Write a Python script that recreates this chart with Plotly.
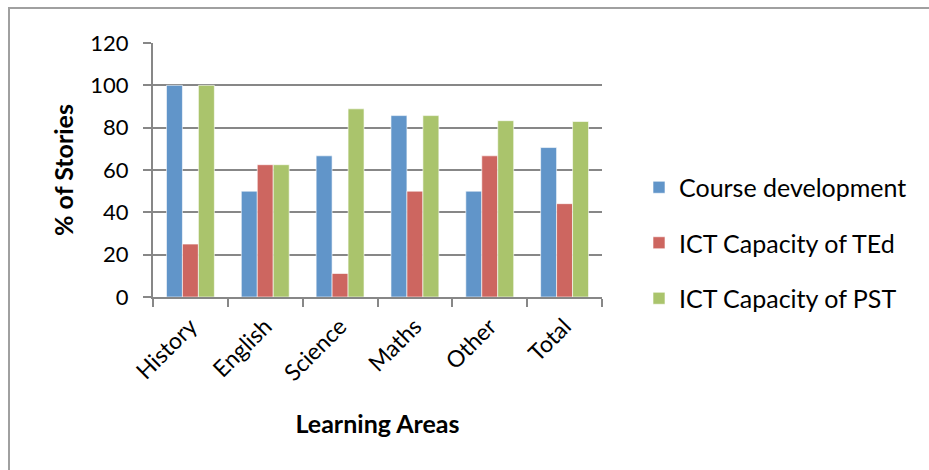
import plotly.graph_objects as go

categories = ["History", "English", "Science", "Maths", "Other", "Total"]
course_dev = [100, 50, 66.7, 85.7, 50, 70.6]
ict_ted = [25, 62.5, 11.1, 50, 66.7, 44.1]
ict_pst = [100, 62.5, 88.9, 85.7, 83.3, 82.9]
y_ticks = [0, 20, 40, 60, 80, 100, 120]

series = [
    ("Course development", course_dev, "#6195C9"),
    ("ICT Capacity of TEd", ict_ted, "#CD6660"),
    ("ICT Capacity of PST", ict_pst, "#AAC46C"),
]

FONT = "Lato, 'Open Sans', sans-serif"
FS = 22
FT = 25
fig = go.Figure()
for i, (name, vals, col) in enumerate(series):
    fig.add_trace(go.Bar(
        x=categories, y=vals, name=name, legendgroup=f"g{i}",
        marker=dict(color=col, line=dict(color="rgba(255,255,255,0.6)", width=1)),
    ))

L, R, T, B = 153, 602, 43, 297
W, H = 929, 470
pw, ph = R - L, B - T

fig.update_layout(
    width=W, height=H,
    margin=dict(l=L, r=W - R, t=T, b=H - B),
    paper_bgcolor="white", plot_bgcolor="white",
    barmode="group", bargap=0.36, bargroupgap=0,
    font=dict(family=FONT, size=FS, color="black"),
    legend=dict(
        x=(639 - L) / pw, xanchor="left", y=1 - (243 - T) / ph, yanchor="middle",
        traceorder="grouped", tracegroupgap=20,
        font=dict(family=FONT, size=FT, color="black"),
        bgcolor="rgba(0,0,0,0)",
    ),
    showlegend=True,
    shapes=[
        dict(type="rect", xref="paper", yref="paper",
             x0=(9 - L) / pw, x1=(945 - L) / pw,
             y0=1 - (480 - T) / ph, y1=1 + (T - 8) / ph,
             line=dict(color="#A0A0A0", width=2), layer="below"),
    ],
)
fig.update_xaxes(
    type="category", tickangle=-45, tickson="boundaries",
    ticks="outside", ticklen=8, tickcolor="#878787", tickwidth=2,
    showline=True, linecolor="#878787", linewidth=2,
    showgrid=False, ticklabelstandoff=5,
    tickfont=dict(family=FONT, size=23),
    title=dict(text="<b>Learning Areas</b>", font=dict(family=FONT, size=FT), standoff=30),
)
fig.update_yaxes(
    range=[0, 120], tickvals=y_ticks,
    ticks="outside", ticklen=8, tickcolor="#878787", tickwidth=2,
    showline=True, linecolor="#878787", linewidth=2,
    showgrid=True, gridcolor="#878787", gridwidth=1.5,
    zeroline=False, ticklabelstandoff=10,
    tickfont=dict(family=FONT, size=FS),
    title=dict(text="<b>% of Stories</b>", font=dict(family=FONT, size=FT), standoff=10),
)

fig.write_html("out.html")
